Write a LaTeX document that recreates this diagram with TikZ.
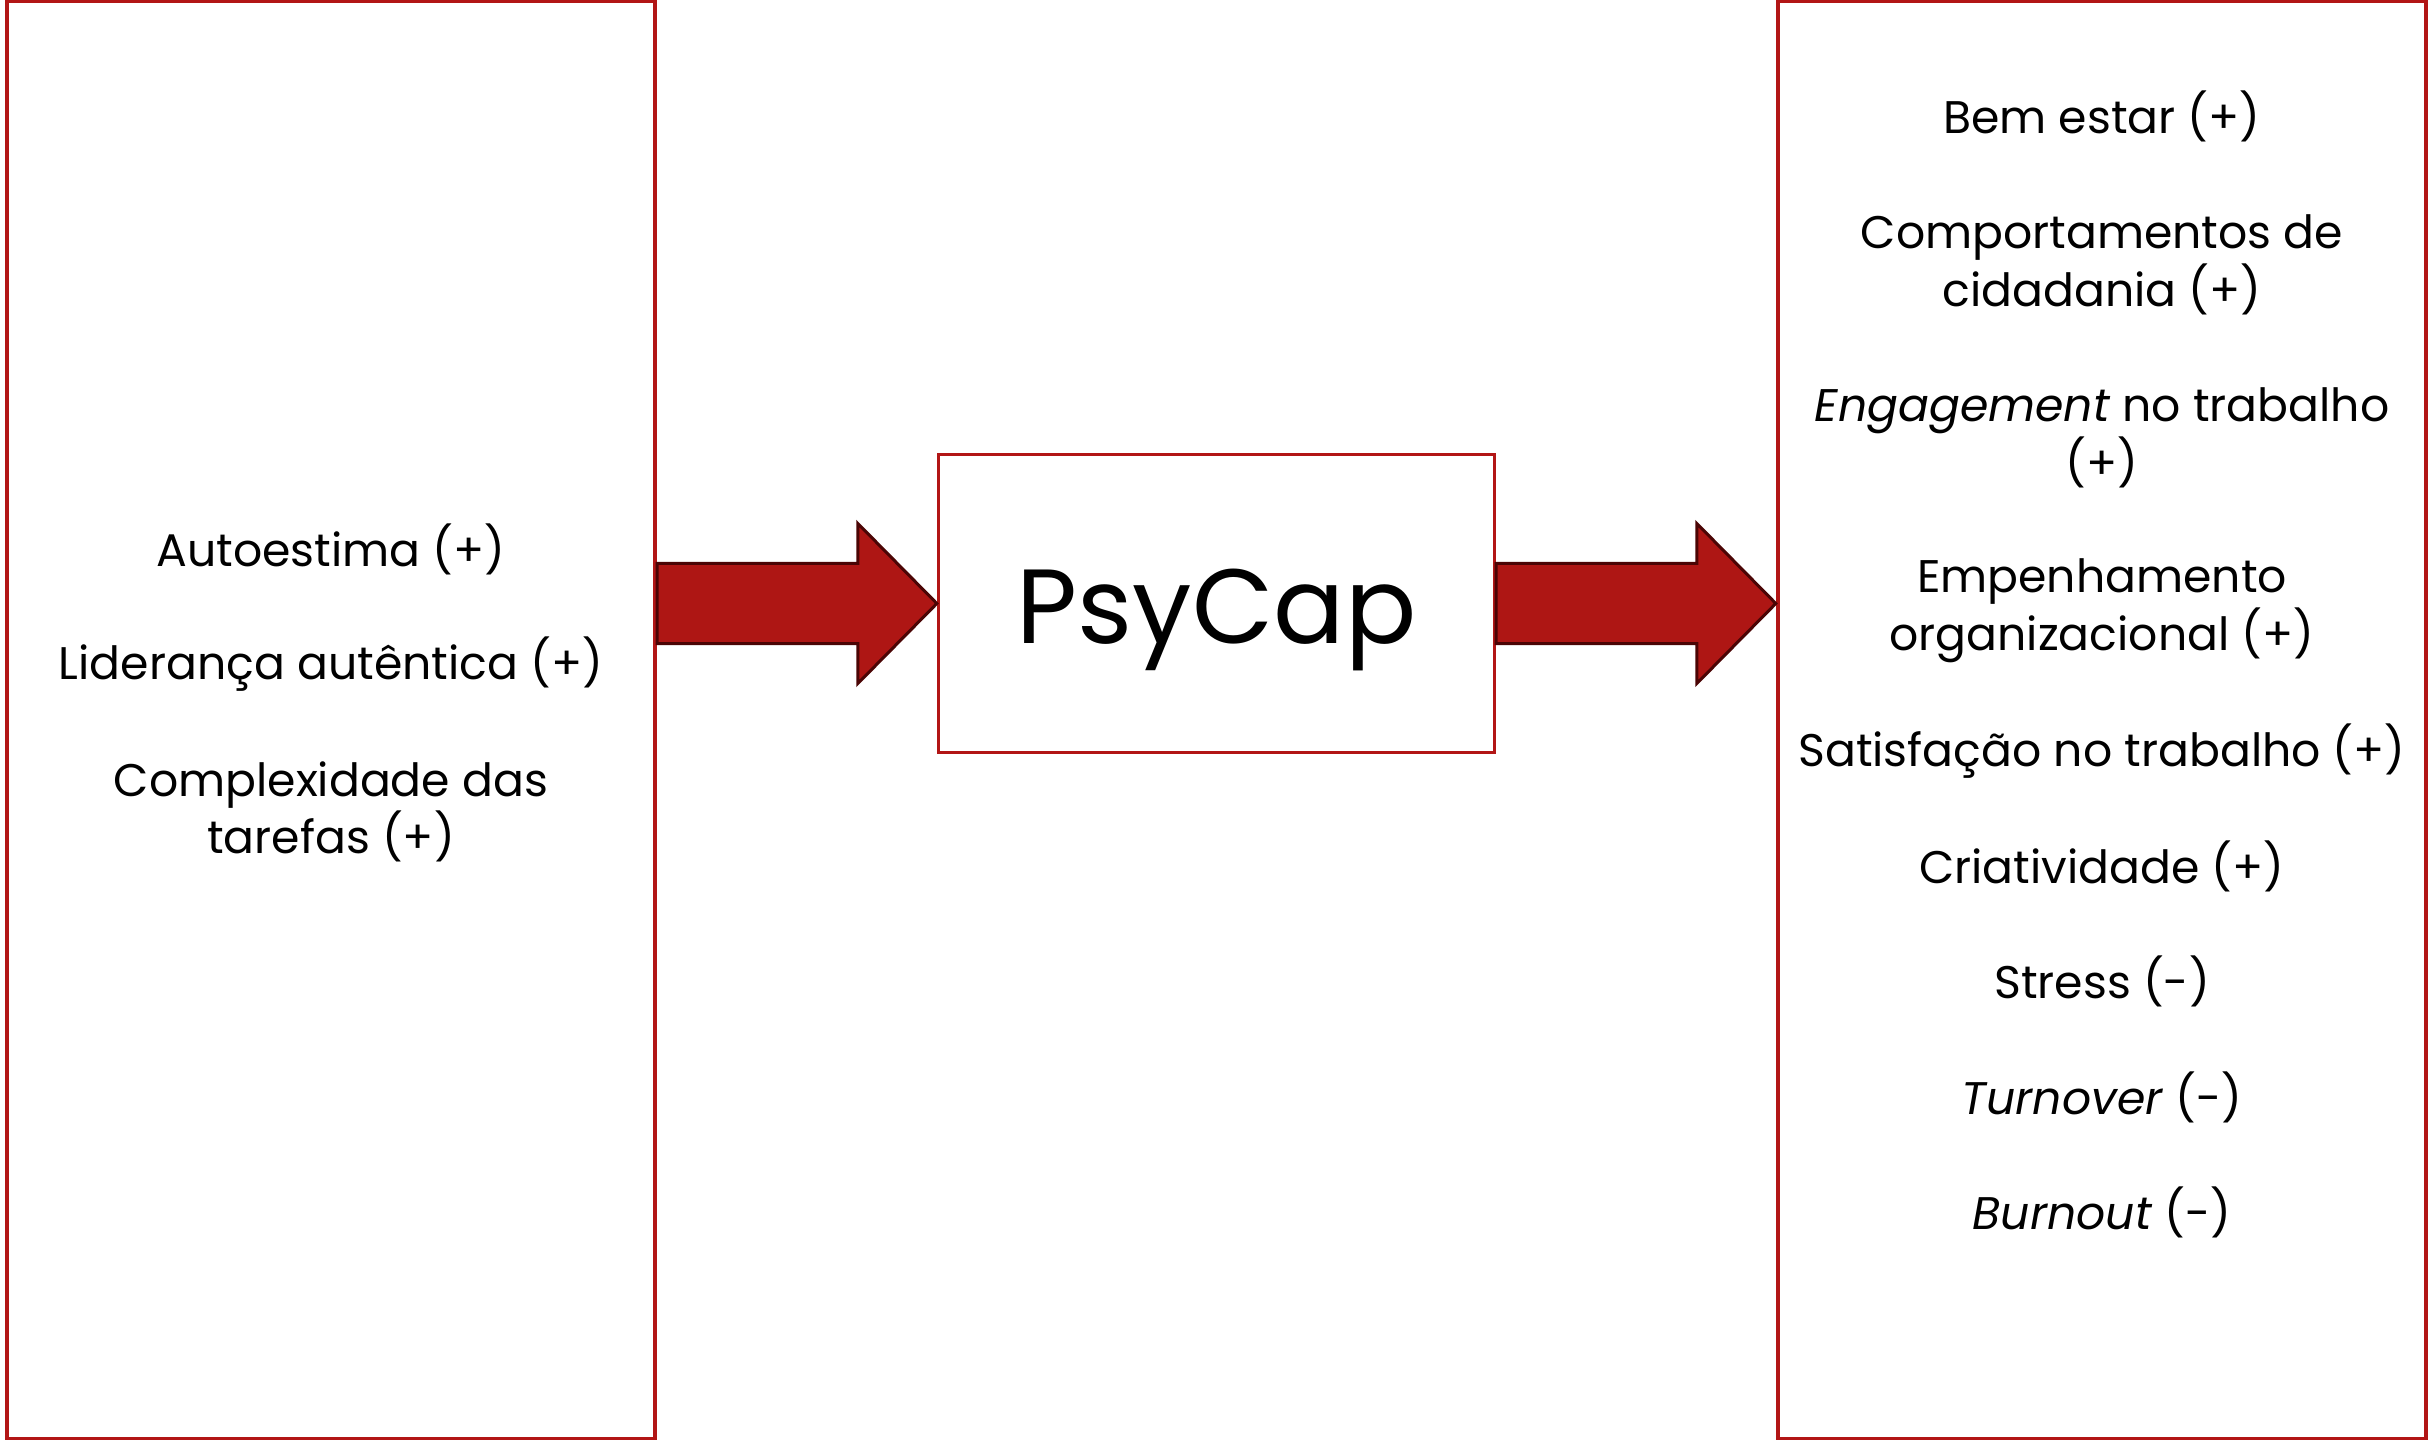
\documentclass[tikz,border=0pt]{standalone}
\usepackage{fontspec}
\setmainfont{Poppins}
\usetikzlibrary{calc}

\definecolor{boxred}{RGB}{178,22,22}
\definecolor{arrowred}{RGB}{174,22,20}
\definecolor{arrowdark}{RGB}{75,5,5}

\tikzset{
  panel/.style={draw=boxred, line width=0.04cm, minimum width=6.48cm, minimum height=14.38cm, inner sep=0pt},
  corebox/.style={draw=boxred, line width=0.03cm, minimum width=5.56cm, minimum height=2.98cm, inner sep=0pt,
    text height=23pt, text depth=0pt, font=\fontsize{30}{36}\selectfont},
  item/.style={align=center, inner sep=0pt, font=\fontsize{13}{16.35}\selectfont},
  fatarrow/.style={fill=arrowred, draw=arrowdark, line width=0.03cm, line join=miter}
}

\newcommand{\fatarrow}[2]{%
  \draw[fatarrow] let \p1=(#1), \p2=(#2) in
    (\x1,\y1+0.4cm) -- (\x2-0.79cm,\y1+0.4cm) -- (\x2-0.79cm,\y1+0.8cm)
    -- (\x2,\y2) -- (\x2-0.79cm,\y1-0.8cm) -- (\x2-0.79cm,\y1-0.4cm)
    -- (\x1,\y1-0.4cm) -- cycle;}

\begin{document}
\begin{tikzpicture}[x=0.01cm,y=-0.01cm]
\useasboundingbox (0,0) rectangle (2433,1440);
\node (inbox) at (331,720) [panel] {};
\node (outbox) at (2102,720) [panel] {};
\node (psycap) at (1216.5,603.5) [corebox] {PsyCap};
\fatarrow{inbox.east |- psycap.west}{psycap.west}
\fatarrow{psycap.east}{outbox.west |- psycap.east}
\node (autoestima) at (331,549) [item] {Autoestima (+)};
\node (lideranca) at (331,664) [item] {Liderança autêntica (+)};
\node (complexidade) at (331,812) [item] {Complexidade das\\tarefas (+)};
\node (bemestar) at (2102,116) [item] {Bem estar (+)};
\node (cidadania) at (2102,265) [item] {Comportamentos de\\cidadania (+)};
\node (engagement) at (2102,438) [item] {\textit{Engagement} no trabalho\\(+)};
\node (empenho) at (2102,611) [item] {Empenhamento\\organizacional (+)};
\node (satisfacao) at (2102,751) [item] {Satisfação no trabalho (+)};
\node (criatividade) at (2102,866) [item] {Criatividade (+)};
\node (stress) at (2102,981) [item] {Stress (-)};
\node (turnover) at (2102,1097) [item] {\textit{Turnover} (-)};
\node (burnout) at (2102,1212) [item] {\textit{Burnout} (-)};
\end{tikzpicture}
\end{document}
